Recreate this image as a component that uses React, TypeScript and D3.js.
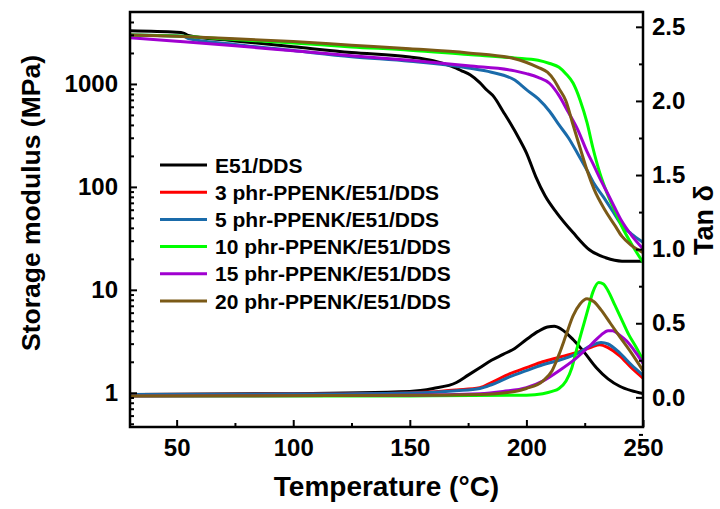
import React, { useEffect, useRef } from 'react';
import * as d3 from 'd3';

type Pt = [number, number];

// legend / series names and colours
const seriesNames = [
  'E51/DDS',
  '3 phr-PPENK/E51/DDS',
  '5 phr-PPENK/E51/DDS',
  '10 phr-PPENK/E51/DDS',
  '15 phr-PPENK/E51/DDS',
  '20 phr-PPENK/E51/DDS',
];
const seriesColors = ['#000000', '#ff0000', '#1a6baa', '#00ff00', '#a000d0', '#7b5a17'];

// storage modulus (MPa) vs temperature (°C)
// (3 phr curve lies under the 5 phr one and is not visible)
const storageE51: Pt[] = [[30,3290],[50,3180],[53,3120],[55,2960],[75,2620],[100,2300],[125,2020],[150,1830],[160,1680],[168,1480],[172,1350],[176,1220],[180,1030],[183,873],[186,753],[190,540],[193,419],[197,290],[200,214],[204,126],[208,82],[213,56],[220,36],[227,24.5],[234,20.5],[241,19],[250,19]];
const storage5: Pt[] = [[30,2990],[50,2930],[53,2900],[55,2760],[75,2420],[100,2110],[125,1840],[150,1660],[175,1430],[185,1300],[195,1090],[200,880],[205,720],[210,540],[214,400],[218,300],[222,210],[226,145],[229,108],[233,80],[237,58],[241,42],[245,35],[250,29]];
const storage10: Pt[] = [[30,2990],[50,2920],[75,2700],[100,2500],[125,2290],[150,2130],[175,1930],[195,1790],[205,1700],[210,1580],[214,1450],[217,1250],[220,1020],[223,700],[226,420],[228.5,240],[231.5,136],[234.5,88],[238,58],[241,41],[245,28],[250,18.5]];
const storage15: Pt[] = [[30,2810],[50,2600],[75,2350],[100,2100],[125,1880],[150,1700],[175,1500],[195,1340],[200,1260],[205,1160],[210,1010],[214,770],[218,530],[222,360],[226,220],[229,160],[232,115],[235,85],[238,62],[241,46],[245,34],[250,25]];
const storage20: Pt[] = [[30,2990],[50,2900],[75,2750],[100,2580],[125,2380],[150,2200],[175,2000],[195,1760],[205,1450],[209,1300],[212,1080],[214,900],[217,680],[220,400],[223,240],[226,145],[229,95],[234,58],[238,42],[241,33],[245,27],[250,23]];

// tan delta vs temperature
const tanE51: Pt[] = [[30,0.02],[100,0.025],[150,0.04],[160,0.06],[170,0.1],[175,0.15],[180,0.2],[185,0.25],[190,0.29],[195,0.33],[200,0.39],[205,0.445],[209,0.475],[212,0.48],[215,0.46],[220,0.39],[225,0.3],[230,0.2],[235,0.125],[240,0.075],[245,0.045],[250,0.025]];
const tan3: Pt[] = [[30,0.02],[100,0.022],[150,0.03],[170,0.05],[180,0.065],[185,0.1],[193,0.16],[200,0.2],[207,0.24],[214,0.27],[221,0.3],[228,0.34],[231.5,0.355],[235,0.335],[240,0.28],[245,0.2],[250,0.13]];
const tan5: Pt[] = [[30,0.02],[100,0.022],[150,0.03],[170,0.045],[180,0.06],[185,0.085],[193,0.14],[200,0.18],[207,0.22],[214,0.25],[221,0.29],[228,0.35],[232,0.37],[235,0.36],[240,0.3],[245,0.22],[250,0.15]];
const tan10: Pt[] = [[30,0.01],[150,0.01],[200,0.015],[207,0.025],[211,0.04],[214,0.06],[217,0.11],[219.5,0.2],[221.5,0.32],[224,0.46],[226.5,0.6],[228.5,0.71],[231,0.775],[233,0.765],[235,0.72],[238,0.62],[241,0.52],[244,0.42],[247,0.34],[250,0.25]];
const tan15: Pt[] = [[30,0.01],[150,0.015],[180,0.025],[190,0.04],[200,0.065],[207,0.11],[214,0.18],[221,0.26],[228,0.36],[232,0.42],[235,0.45],[237,0.45],[240,0.42],[243,0.38],[247,0.3],[250,0.23]];
const tan20: Pt[] = [[30,0.01],[150,0.015],[180,0.02],[195,0.04],[200,0.06],[207,0.11],[211,0.18],[214,0.29],[217,0.42],[220,0.55],[223,0.63],[226,0.665],[229,0.645],[232,0.59],[236,0.5],[240,0.41],[245,0.3],[250,0.18]];

const xTicks = [50, 100, 150, 200, 250];
const xMinor = [75, 125, 175, 225];
const leftTicks = [1, 10, 100, 1000];
const rightTicks = [0, 0.5, 1.0, 1.5, 2.0, 2.5];
const rightMinor = [-0.25, 0.25, 0.75, 1.25, 1.75, 2.25];

const FONT = "'Liberation Sans', Arial, sans-serif";

const App = () => {
  const svgRef = useRef<SVGSVGElement>(null);

  useEffect(() => {
    const W = 720, H = 509;
    const margin = { top: 12, right: 77, bottom: 82, left: 130 };
    const width = W - margin.left - margin.right;
    const height = H - margin.top - margin.bottom;

    const root = d3.select(svgRef.current);
    root.selectAll('*').remove();
    root.attr('width', W).attr('height', H);

    const svg = root.append('g').attr('transform', `translate(${margin.left},${margin.top})`);

    const x = d3.scaleLinear().domain([30, 250]).range([0, width]);
    const yL = d3.scaleLog().domain([0.465, 5000]).range([height, 0]);
    const yR = d3.scaleLinear().domain([-0.2, 2.6]).range([height, 0]);

    const clip = svg.append('clipPath').attr('id', 'plot-clip');
    clip.append('rect').attr('width', width).attr('height', height);

    const plot = svg.append('g').attr('clip-path', 'url(#plot-clip)');

    const lineL = d3.line<Pt>().x(d => x(d[0])).y(d => yL(d[1])).curve(d3.curveMonotoneX);
    const lineR = d3.line<Pt>().x(d => x(d[0])).y(d => yR(d[1])).curve(d3.curveMonotoneX);

    const storageSeries: [Pt[], number][] = [
      [storageE51, 0], [storage5, 2], [storage10, 3], [storage15, 4], [storage20, 5],
    ];
    const tanSeries: Pt[][] = [tanE51, tan3, tan5, tan10, tan15, tan20];

    storageSeries.forEach(([data, ci]) => {
      plot.append('path')
        .datum(data)
        .attr('d', lineL)
        .attr('fill', 'none')
        .attr('stroke', seriesColors[ci])
        .attr('stroke-width', 3);
    });
    tanSeries.forEach((data, i) => {
      plot.append('path')
        .datum(data)
        .attr('d', lineR)
        .attr('fill', 'none')
        .attr('stroke', seriesColors[i])
        .attr('stroke-width', 3);
    });

    const styleAxis = (g: any, size: number) => {
      g.select('.domain').remove();
      g.selectAll('line').attr('stroke', '#000').attr('stroke-width', 2);
      g.selectAll('text')
        .attr('fill', '#000')
        .style('font-family', FONT)
        .style('font-weight', 'bold')
        .style('font-size', `${size}px`);
    };

    // bottom axis
    svg.append('g')
      .attr('transform', `translate(0,${height})`)
      .call(d3.axisBottom(x).tickValues(xTicks).tickSize(-7).tickPadding(12).tickFormat(d3.format('d')))
      .call(g => styleAxis(g, 24));
    svg.append('g')
      .attr('transform', `translate(0,${height})`)
      .call(d3.axisBottom(x).tickValues(xMinor).tickSize(-4).tickFormat(() => ''))
      .call(g => styleAxis(g, 24));

    // left log axis
    const minorL: number[] = [];
    [0.1, 1, 10, 100, 1000].forEach(dec => {
      for (let k = 2; k <= 9; k++) {
        const v = dec * k;
        if (v > 0.465 && v < 5000) minorL.push(v);
      }
    });
    svg.append('g')
      .call(d3.axisLeft(yL).tickValues(leftTicks).tickSize(-7).tickPadding(12).tickFormat(d3.format('d')))
      .call(g => styleAxis(g, 24));
    svg.append('g')
      .call(d3.axisLeft(yL).tickValues(minorL).tickSize(-4).tickFormat(() => ''))
      .call(g => styleAxis(g, 24));

    // right tan delta axis
    svg.append('g')
      .attr('transform', `translate(${width},0)`)
      .call(d3.axisRight(yR).tickValues(rightTicks).tickSize(-7).tickPadding(9).tickFormat(d3.format('.1f')))
      .call(g => styleAxis(g, 24));
    svg.append('g')
      .attr('transform', `translate(${width},0)`)
      .call(d3.axisRight(yR).tickValues(rightMinor).tickSize(-4).tickFormat(() => ''))
      .call(g => styleAxis(g, 24));

    // frame
    svg.append('rect')
      .attr('width', width)
      .attr('height', height)
      .attr('fill', 'none')
      .attr('stroke', '#000')
      .attr('stroke-width', 2.5);

    // axis titles
    root.append('text')
      .attr('transform', `translate(31,${margin.top + 191}) rotate(-90)`)
      .attr('text-anchor', 'middle')
      .attr('dominant-baseline', 'central')
      .style('font-family', FONT).style('font-weight', 'bold').style('font-size', '26.5px')
      .text('Storage modulus (MPa)');
    root.append('text')
      .attr('x', margin.left + width / 2)
      .attr('y', 496)
      .attr('text-anchor', 'middle')
      .style('font-family', FONT).style('font-weight', 'bold').style('font-size', '28px')
      .text('Temperature (°C)');
    root.append('text')
      .attr('transform', `translate(704,${margin.top + 208}) rotate(-90)`)
      .attr('text-anchor', 'middle')
      .attr('dominant-baseline', 'central')
      .style('font-family', FONT).style('font-weight', 'bold').style('font-size', '27px')
      .text('Tan δ');

    // legend
    const legend = root.append('g').attr('transform', 'translate(160,165)');
    seriesNames.forEach((name, i) => {
      const row = legend.append('g').attr('transform', `translate(0,${i * 27.2})`);
      row.append('line')
        .attr('x1', 0).attr('x2', 47)
        .attr('stroke', seriesColors[i])
        .attr('stroke-width', 3);
      row.append('text')
        .attr('x', 55)
        .attr('dominant-baseline', 'central')
        .style('font-family', FONT).style('font-weight', 'bold').style('font-size', '21px')
        .text(name);
    });
  }, []);

  return (
    <div style={{ position: 'absolute', left: 0, top: 0, width: 720, height: 509, background: '#fff' }}>
      <svg ref={svgRef}></svg>
    </div>
  );
};

export default App;
